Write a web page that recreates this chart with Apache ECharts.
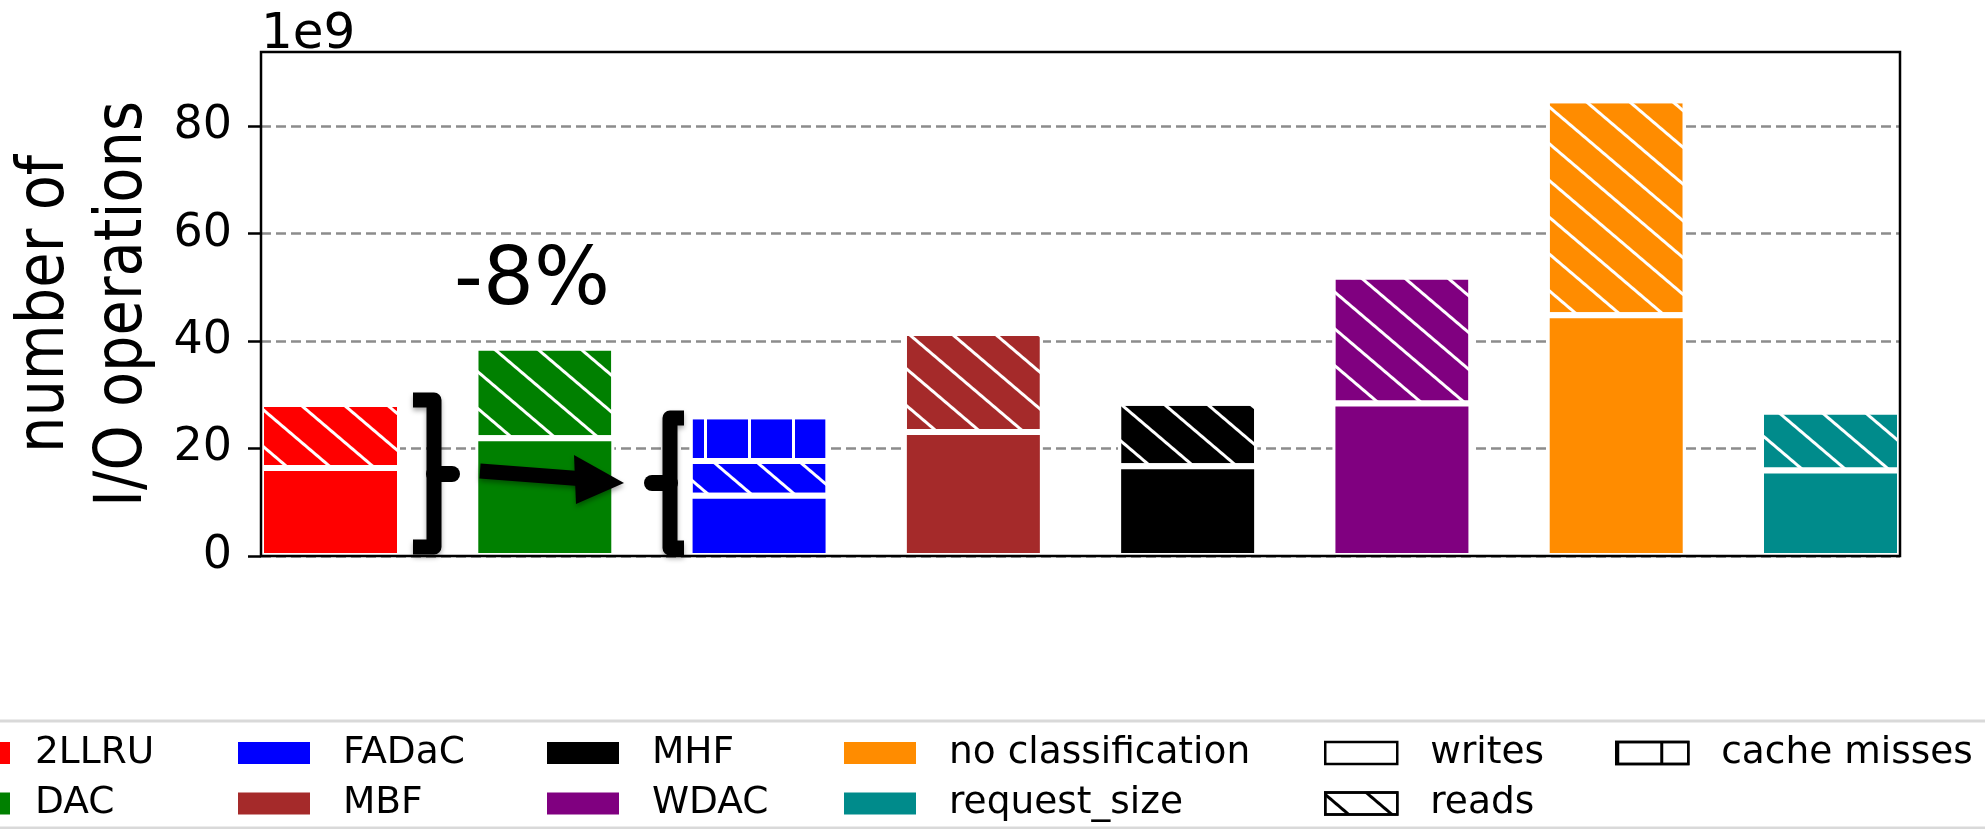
<!DOCTYPE html>
<html>
<head>
<meta charset="utf-8">
<script src="https://cdn.jsdelivr.net/npm/echarts@6/dist/echarts.min.js"></script>
<style>
  html, body { margin: 0; padding: 0; background: #fff; }
  #main { width: 1985px; height: 829px; }
</style>
</head>
<body>
<div id="main"></div>
<script>
// data (unit: 1e9 operations)
const categories = ['2LLRU', 'DAC', 'FADaC', 'MBF', 'MHF', 'WDAC', 'no classification', 'request_size'];
const writes = [16.4, 21.9, 11.2, 23.1, 16.7, 28.4, 44.8, 15.9];
const reads = [11.9, 16.9, 6.5, 18.4, 11.8, 23.6, 40.0, 11.0];
const cacheMisses = ['-', '-', 8.3, '-', '-', '-', '-', '-'];
const yTicks = [0, 20, 40, 60, 80];
const yMax = 93.8;

const colors = ['#ff0000', '#008000', '#0000ff', '#a52a2a', '#000000', '#800080', '#ff8c00', '#008b8b'];
const FONT = "'DejaVu Sans', sans-serif";

// plot frame
const PLOT = { left: 261, top: 52, width: 1639, height: 504 };
const BAR_W = 139;
const STEP = (PLOT.width - BAR_W) / (categories.length - 1);

const chart = echarts.init(document.getElementById('main'));

const readsHatch = (c) => ({
  symbol: 'rect', symbolSize: 1, color: c,
  dashArrayX: [1, 0], dashArrayY: [3, 25], rotation: 0.705
});
const missHatch = (c) => ({
  symbol: 'rect', symbolSize: 1, color: c,
  dashArrayX: [3, 41], dashArrayY: [1, 0], rotation: 0
});
const only = (arr, k) => arr.map((v, i) => (i === k ? v : '-'));

const series = [];
categories.forEach((name, k) => {
  series.push({
    name, type: 'bar', stack: 'io', barWidth: BAR_W,
    data: only(writes, k),
    itemStyle: { color: colors[k], borderColor: '#fff', borderWidth: 3 }
  });
});
categories.forEach((name, k) => {
  series.push({
    name, type: 'bar', stack: 'io', barWidth: BAR_W,
    data: only(reads, k),
    itemStyle: { color: colors[k], borderColor: '#fff', borderWidth: 3, decal: readsHatch('#fff') }
  });
});
series.push({
  name: 'FADaC', type: 'bar', stack: 'io', barWidth: BAR_W,
  data: cacheMisses,
  itemStyle: { color: colors[2], borderColor: '#fff', borderWidth: 3, decal: missHatch('#fff') }
});
// legend-only entries for the hatch meaning
series.push(
  { name: 'writes', type: 'bar', stack: 'io', barWidth: BAR_W, data: [],
    itemStyle: { color: '#fff', borderColor: '#000', borderWidth: 3 } },
  { name: 'reads', type: 'bar', stack: 'io', barWidth: BAR_W, data: [],
    itemStyle: { color: '#fff', borderColor: '#000', borderWidth: 3, decal: readsHatch('#000') } },
  { name: 'cache misses', type: 'bar', stack: 'io', barWidth: BAR_W, data: [],
    itemStyle: { color: '#fff', borderColor: '#000', borderWidth: 3, decal: missHatch('#000') } }
);

const legendCols = [
  ['2LLRU', 'DAC'], ['FADaC', 'MBF'], ['MHF', 'WDAC'],
  ['no classification', 'request_size'], ['writes', 'reads'], ['cache misses']
];
const legendLefts = [-62, 238, 547, 844, 1324, 1615];
const legendPads = [20, 28, 28, 28, 28, 28];
const legend = legendCols.map((names, i) => ({
  left: legendLefts[i], top: 730, orient: 'vertical', padding: 0,
  itemGap: 4.5, itemWidth: 72, itemHeight: 22, icon: 'rect', selectedMode: false,
  data: names.map((n) => (i >= 4
    ? { name: n, itemStyle: { borderColor: '#000', borderWidth: 2.5 } }
    : { name: n, itemStyle: { borderWidth: 0 } })),
  textStyle: { fontSize: 37.5, fontFamily: FONT, color: '#000', lineHeight: 46, padding: [0, 0, 0, legendPads[i]] }
}));

const option = {
  animation: false,
  backgroundColor: '#fff',
  grid: [
    { left: PLOT.left + BAR_W / 2 - STEP / 2, top: PLOT.top, width: STEP * categories.length,
      height: PLOT.height, outerBoundsMode: 'none', containLabel: false },
    { left: PLOT.left, top: PLOT.top, width: PLOT.width, height: PLOT.height,
      outerBoundsMode: 'none', containLabel: false }
  ],
  xAxis: [
    { gridIndex: 0, type: 'category', data: categories, show: false },
    { gridIndex: 1, type: 'value', min: 0, max: 1, show: false }
  ],
  yAxis: [
    { gridIndex: 0, type: 'value', min: 0, max: yMax, show: false },
    {
      gridIndex: 1, type: 'value', min: 0, max: yMax, interval: 20,
      axisLine: { show: false },
      axisTick: { show: true, length: 13, customValues: yTicks, lineStyle: { color: '#000', width: 2.5 } },
      axisLabel: { margin: 29, fontSize: 46, fontFamily: FONT, color: '#000', customValues: yTicks },
      splitLine: { show: true, lineStyle: { color: '#8c8c8c', width: 2.5, type: [10, 5] } }
    }
  ],
  legend,
  series,
  graphic: [
    { type: 'rect', z: 100, silent: true,
      shape: { x: PLOT.left, y: PLOT.top, width: PLOT.width, height: PLOT.height },
      style: { fill: null, stroke: '#000', lineWidth: 2.5 } },
    { type: 'rect', silent: true,
      shape: { x: -10, y: 721, width: 2005, height: 107 },
      style: { fill: null, stroke: '#d9d9d9', lineWidth: 3 } },
    // y axis title, glyphs a little stretched like the source
    { type: 'text', x: 84.5, y: PLOT.top + PLOT.height / 2, rotation: Math.PI / 2, scaleX: 1, scaleY: 1.16,
      silent: true,
      style: { text: 'number of\nI/O operations', fontSize: 57.5, lineHeight: 67.7, fontFamily: FONT,
        fill: '#000', align: 'center', textAlign: 'center', verticalAlign: 'middle', textVerticalAlign: 'middle' } },
    { type: 'text', x: PLOT.left, y: 60, silent: true,
      style: { text: '1e9', fontSize: 50, fontFamily: FONT, fill: '#000',
        align: 'left', textAlign: 'left', verticalAlign: 'bottom', textVerticalAlign: 'bottom' } },
    { type: 'text', x: 532, y: 283, silent: true,
      style: { text: '-8%', fontSize: 80, fontFamily: FONT, fill: '#000',
        align: 'center', textAlign: 'center', verticalAlign: 'middle', textVerticalAlign: 'middle' } },
    // closing brace right of 2LLRU
    { type: 'polyline', silent: true, z: 50,
      shape: { points: [[413, 400], [434, 400], [434, 547], [413, 547]] },
      style: { fill: null, stroke: '#000', lineWidth: 15, lineJoin: 'round',
        shadowBlur: 5, shadowColor: 'rgba(0,0,0,0.35)', shadowOffsetY: 3 } },
    { type: 'line', silent: true, z: 50,
      shape: { x1: 434, y1: 474, x2: 452, y2: 474 },
      style: { stroke: '#000', lineWidth: 16, lineCap: 'round' } },
    // opening brace left of FADaC
    { type: 'polyline', silent: true, z: 50,
      shape: { points: [[684, 418], [670, 418], [670, 548], [684, 548]] },
      style: { fill: null, stroke: '#000', lineWidth: 15, lineJoin: 'round',
        shadowBlur: 5, shadowColor: 'rgba(0,0,0,0.35)', shadowOffsetY: 3 } },
    { type: 'line', silent: true, z: 50,
      shape: { x1: 670, y1: 483, x2: 652, y2: 483 },
      style: { stroke: '#000', lineWidth: 16, lineCap: 'round' } },
    // arrow
    { type: 'line', silent: true, z: 50,
      shape: { x1: 480, y1: 471, x2: 585, y2: 479 },
      style: { stroke: '#000', lineWidth: 15,
        shadowBlur: 5, shadowColor: 'rgba(0,0,0,0.35)', shadowOffsetY: 3 } },
    { type: 'polygon', silent: true, z: 50,
      shape: { points: [[574, 455], [624, 483], [576, 504]] },
      style: { fill: '#000', shadowBlur: 5, shadowColor: 'rgba(0,0,0,0.35)', shadowOffsetY: 3 } }
  ]
};

chart.setOption(option);
</script>
</body>
</html>
